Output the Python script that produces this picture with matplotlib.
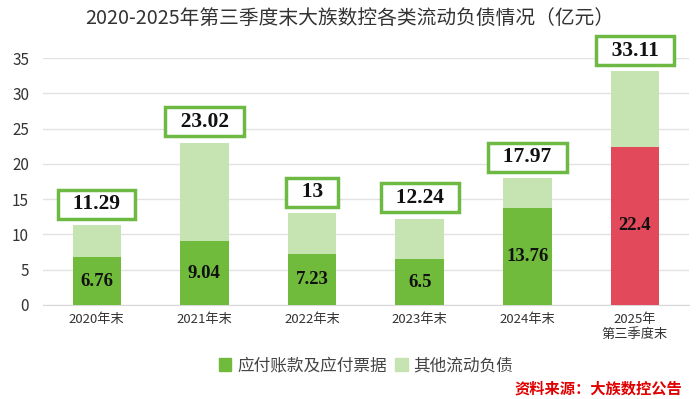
import matplotlib.pyplot as plt
from matplotlib.patches import Patch

plt.rcParams['font.family'] = ['Noto Sans CJK SC', 'DejaVu Sans']

# data (亿元)
categories = ['2020年末', '2021年末', '2022年末', '2023年末', '2024年末', '2025年\n第三季度末']
payables = [6.76, 9.04, 7.23, 6.5, 13.76, 22.4]
totals = [11.29, 23.02, 13, 12.24, 17.97, 33.11]
payable_labels = ['6.76', '9.04', '7.23', '6.5', '13.76', '22.4']
total_labels = ['11.29', '23.02', '13', '12.24', '17.97', '33.11']
others = [t - p for t, p in zip(totals, payables)]

dark_green = '#70bb3c'
light_green = '#c6e4b1'
red = '#e2495b'
box_green = '#6db944'

fig = plt.figure(figsize=(7, 3.99), dpi=100)
ax = fig.add_axes([0.0614, 0.2356, 0.9226, 0.619])

x = list(range(len(categories)))
colors = [dark_green] * (len(categories) - 1) + [red]
ax.bar(x, payables, width=0.45, color=colors, zorder=3)
ax.bar(x, others, bottom=payables, width=0.45, color=light_green, zorder=3)

for i in x:
    ax.text(i, payables[i] / 2, payable_labels[i], ha='center', va='center',
            fontsize=13.5, fontweight='bold', family='Liberation Serif', color='#111111', zorder=4)
    ax.annotate('  ' + total_labels[i] + '  ', (i, totals[i]), xytext=(0, 15), textcoords='offset points',
                ha='center', va='center', fontsize=15.5, fontweight='bold', family='Liberation Serif',
                color='#111111', zorder=5,
                bbox=dict(boxstyle='square,pad=0.2', fc='white', ec=box_green, lw=2.5))

ax.set_xlim(-0.5, len(categories) - 0.5)
ax.set_ylim(0, 35)
ax.set_yticks(range(0, 36, 5))
ax.set_xticks(x)
ax.set_xticklabels(categories, fontsize=9.5, color='#333333', linespacing=1.2)
ax.tick_params(axis='y', labelsize=11, colors='#333333', length=0, pad=10)
ax.tick_params(axis='x', length=0, pad=6)
ax.grid(axis='y', color='#e2e2e2', lw=1, zorder=0)
for s in ['top', 'right', 'left']:
    ax.spines[s].set_visible(False)
ax.spines['bottom'].set_color('#d9d9d9')

fig.text(0.499, 0.955, '2020-2025年第三季度末大族数控各类流动负债情况（亿元）', ha='center', va='center',
         fontsize=14.2, color='#333333')

handles = [Patch(color=dark_green), Patch(color=light_green)]
fig.legend(handles, ['应付账款及应付票据', '其他流动负债'], loc='center', bbox_to_anchor=(0.523, 0.083),
           ncol=2, frameon=False, fontsize=12, handlelength=0.75, handleheight=0.75,
           handletextpad=0.35, columnspacing=0.5, labelcolor='#444444')

fig.text(0.975, 0.025, '资料来源：大族数控公告', ha='right', va='center', fontsize=11,
         fontweight='bold', color='#e00000')

fig.savefig('out.png', dpi=100)
